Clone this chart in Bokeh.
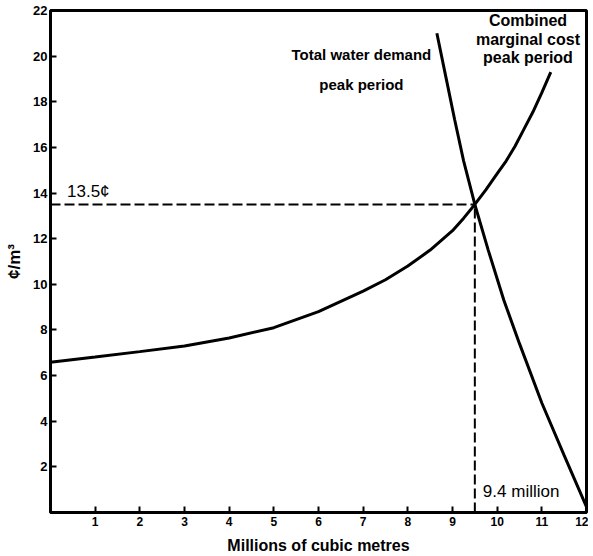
from bokeh.plotting import figure
from bokeh.embed import file_html
from bokeh.resources import INLINE
from bokeh.models import Label, FixedTicker, Range1d

# Data
mc_x = [0, 1, 2, 3, 4, 5, 6, 7, 7.5, 8, 8.5, 9, 9.25, 9.5, 9.75, 10, 10.2, 10.4, 10.6, 10.8, 11.0, 11.2]
mc_y = [6.58, 6.81, 7.05, 7.3, 7.65, 8.1, 8.8, 9.7, 10.2, 10.8, 11.5, 12.35, 12.9, 13.5, 14.15, 14.85, 15.4, 16.05, 16.8, 17.55, 18.4, 19.3]

dem_x = [8.65, 8.85, 9.05, 9.25, 9.5, 9.8, 10.15, 10.5, 11.0, 11.5, 12.0]
dem_y = [21.0, 19.1, 17.2, 15.4, 13.5, 11.5, 9.3, 7.4, 4.8, 2.5, 0.25]

cross_x = 9.5
cross_y = 13.5

x_ticks = [1, 2, 3, 4, 5, 6, 7, 8, 9, 10, 11, 12]
y_ticks = [2, 4, 6, 8, 10, 12, 14, 16, 18, 20, 22]

FONT = "Liberation Sans"

p = figure(width=588, height=556, output_backend="svg", toolbar_location=None,
           x_range=Range1d(0, 12), y_range=Range1d(0, 22),
           min_border_left=50, min_border_right=2, min_border_top=10, min_border_bottom=44)
p.background_fill_color = "white"
p.border_fill_color = "white"
p.outline_line_color = "black"
p.outline_line_width = 3
p.xgrid.visible = False
p.ygrid.visible = False

for ax in (p.xaxis, p.yaxis):
    ax.axis_line_width = 3
    ax.axis_line_color = "black"
    ax.major_tick_in = 6
    ax.major_tick_out = 0
    ax.major_tick_line_width = 2
    ax.minor_tick_line_color = None
    ax.major_label_text_font = FONT
    ax.major_label_text_font_style = "bold"
    ax.major_label_text_color = "black"
    ax.axis_label_text_font = FONT
    ax.axis_label_text_font_style = "bold"
    ax.axis_label_text_color = "black"

p.xaxis.major_label_text_font_size = "12px"
p.yaxis.major_label_text_font_size = "13px"
p.xaxis.ticker = FixedTicker(ticks=x_ticks)
p.yaxis.ticker = FixedTicker(ticks=y_ticks)
p.xaxis.major_label_standoff = 4
p.yaxis.major_label_standoff = 3

p.yaxis.axis_label = "¢/m³"
p.yaxis.axis_label_text_font_size = "17px"
p.yaxis.axis_label_standoff = 6

p.xaxis.axis_label = "Millions of cubic metres"
p.xaxis.axis_label_text_font_size = "16px"
p.xaxis.axis_label_standoff = 8

# curves
p.line(mc_x, mc_y, line_color="black", line_width=3)
p.line(dem_x, dem_y, line_color="black", line_width=3)

# dashed guides
p.line([0, cross_x], [cross_y, cross_y], line_color="black", line_width=2, line_dash="10 4")
p.line([cross_x, cross_x], [0, cross_y], line_color="black", line_width=2, line_dash="10 4")

def lab(x, y, t, size="15px", style="bold", align="center"):
    p.add_layout(Label(x=x, y=y, text=t, text_font=FONT, text_font_size=size,
                       text_font_style=style, text_align=align, text_baseline="middle",
                       text_color="black"))

lab(0.37, 14.08, "13.5¢", size="17px", style="normal", align="left")
lab(9.68, 0.92, "9.4 million", size="17px", style="normal", align="left")
lab(6.96, 20.05, "Total water demand", size="15px")
lab(6.96, 18.75, "peak period", size="15px")
lab(10.69, 21.55, "Combined", size="16px")
lab(10.69, 20.75, "marginal cost", size="16px")
lab(10.69, 19.95, "peak period", size="16px")

open("out.html", "w").write(file_html(p, INLINE))
